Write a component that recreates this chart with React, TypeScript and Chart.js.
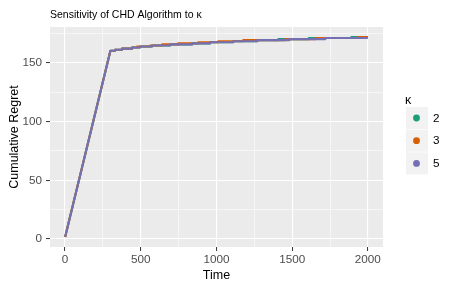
import React, { useEffect, useRef } from "react";
import { Chart, registerables } from "chart.js";

Chart.register(...registerables);

const TITLE = "Sensitivity of CHD Algorithm to κ";
const X_TITLE = "Time";
const Y_TITLE = "Cumulative Regret";
const LEGEND_TITLE = "κ";
const kappaLabels = ["2", "3", "5"];
const seriesColors = ["#1B9E77", "#D95F02", "#7570B3"];

const xMajorTicks = [0, 500, 1000, 1500, 2000];
const xMinorTicks = [250, 750, 1250, 1750];
const yMajorTicks = [0, 50, 100, 150];
const yMinorTicks = [25, 75, 125, 175];

const horizon = 2000;
const startTime = 1;
const startRegret = 1.7;
const rampEndTime = 300;
const rampEndRegret = 160.3;
const stepLevels = [161.2, 162.1, 163.0, 163.9, 164.8, 165.7, 166.6, 167.5, 168.4, 169.3, 170.2, 171.1, 172.0];
const stepTimesK2 = [331, 377, 443, 496, 575, 694, 840, 959, 1111, 1270, 1409, 1610, 1891];
const stepTimesK3 = [331, 377, 443, 476, 562, 642, 747, 880, 1012, 1177, 1455, 1655, 1938];
const stepTimesK5 = [331, 377, 443, 496, 575, 694, 840, 959, 1111, 1270, 1481, 1720];

const FONT = "'Liberation Sans', Arial, Helvetica, sans-serif";

function buildSeries(times: number[]) {
  const pts: { x: number; y: number }[] = [
    { x: startTime, y: startRegret },
    { x: rampEndTime, y: rampEndRegret },
  ];
  let level = rampEndRegret;
  times.forEach((t, i) => {
    pts.push({ x: t, y: level });
    level = stepLevels[i];
    pts.push({ x: t, y: level });
  });
  pts.push({ x: horizon, y: level });
  return pts;
}

const panelPlugin = {
  id: "panelBg",
  beforeDraw(chart: any) {
    const { ctx, chartArea } = chart;
    ctx.save();
    ctx.fillStyle = "#EBEBEB";
    ctx.fillRect(chartArea.left, chartArea.top, chartArea.right - chartArea.left, chartArea.bottom - chartArea.top);
    ctx.restore();
  },
  afterDraw(chart: any) {
    const { ctx } = chart;
    ctx.save();
    ctx.fillStyle = "#000000";
    ctx.font = `10.5px ${FONT}`;
    ctx.textAlign = "left";
    ctx.textBaseline = "alphabetic";
    ctx.fillText(TITLE, 50, 17.5);
    ctx.font = `12.5px ${FONT}`;
    ctx.fillText(LEGEND_TITLE, 405, 104);
    const keyTop = 107;
    const keySize = 22;
    const keyGap = 0.7;
    kappaLabels.forEach((lab, i) => {
      const y0 = keyTop + i * (keySize + keyGap);
      ctx.fillStyle = "#F2F2F2";
      ctx.fillRect(406, y0, keySize, keySize);
      ctx.fillStyle = seriesColors[i];
      ctx.beginPath();
      ctx.arc(406 + keySize / 2 - 0.5, y0 + keySize / 2, 3.4, 0, Math.PI * 2);
      ctx.fill();
      ctx.fillStyle = "#000000";
      ctx.font = `11.7px ${FONT}`;
      ctx.textBaseline = "middle";
      ctx.fillText(lab, 433, y0 + keySize / 2 + 0.5);
      ctx.textBaseline = "alphabetic";
    });
    ctx.restore();
  },
};

export default function App() {
  const canvasRef = useRef<HTMLCanvasElement | null>(null);

  useEffect(() => {
    const canvas = canvasRef.current;
    if (!canvas) return;
    const series = [buildSeries(stepTimesK2), buildSeries(stepTimesK3), buildSeries(stepTimesK5)];
    const allY = series.flat().map((p) => p.y);
    const allX = series.flat().map((p) => p.x);
    const yMaxData = Math.max(...allY);
    const yMinData = Math.min(...allY);
    const yPad = 0.05 * (yMaxData - yMinData);
    const xMaxData = Math.max(...allX);
    const xMinData = Math.min(...allX);
    const xPad = 0.05 * (xMaxData - xMinData);

    const isMajorX = (v: number) => xMajorTicks.includes(v);
    const isMajorY = (v: number) => yMajorTicks.includes(v);

    const chart = new Chart(canvas, {
      type: "line",
      data: {
        datasets: series.map((pts, i) => ({
          label: kappaLabels[i],
          data: pts,
          borderColor: seriesColors[i],
          backgroundColor: seriesColors[i],
          borderWidth: 2.1,
          pointRadius: 0,
          tension: 0,
          fill: false,
          borderCapStyle: "butt",
          borderJoinStyle: "round",
          order: 2 - i,
        })),
      },
      options: {
        animation: false,
        responsive: false,
        devicePixelRatio: 1,
        layout: { padding: { left: 0, top: 27, right: 71, bottom: 0 } },
        plugins: {
          legend: { display: false },
          tooltip: { enabled: false },
          title: { display: false },
        },
        scales: {
          x: {
            type: "linear",
            min: xMinData - xPad,
            max: xMaxData + xPad,
            afterBuildTicks: (s: any) => {
              s.ticks = [...xMajorTicks, ...xMinorTicks].sort((a, b) => a - b).map((v) => ({ value: v }));
            },
            afterFit: (s: any) => {
              s.height = 42;
            },
            ticks: {
              autoSkip: false,
              maxRotation: 0,
              padding: 2,
              color: "#4D4D4D",
              font: { family: FONT, size: 11.7 },
              callback: (v: any) => (isMajorX(Number(v)) ? String(v) : ""),
            },
            grid: {
              color: "#FFFFFF",
              lineWidth: (c: any) => (c.tick && isMajorX(c.tick.value) ? 1.1 : 0.55),
              tickColor: (c: any) => (c.tick && isMajorX(c.tick.value) ? "#333333" : "rgba(0,0,0,0)"),
              tickLength: 4,
              tickWidth: 1,
            },
            border: { display: false },
            title: {
              display: true,
              text: X_TITLE,
              color: "#000000",
              font: { family: FONT, size: 12.5 },
              padding: { top: 0, bottom: 6 },
            },
          },
          y: {
            type: "linear",
            min: yMinData - yPad,
            max: yMaxData + yPad,
            afterBuildTicks: (s: any) => {
              s.ticks = [...yMajorTicks, ...yMinorTicks].sort((a, b) => a - b).map((v) => ({ value: v }));
            },
            afterFit: (s: any) => {
              s.width = 50;
            },
            ticks: {
              autoSkip: false,
              padding: 4,
              color: "#4D4D4D",
              font: { family: FONT, size: 11.7 },
              callback: (v: any) => (isMajorY(Number(v)) ? String(v) : ""),
            },
            grid: {
              color: "#FFFFFF",
              lineWidth: (c: any) => (c.tick && isMajorY(c.tick.value) ? 1.1 : 0.55),
              tickColor: (c: any) => (c.tick && isMajorY(c.tick.value) ? "#333333" : "rgba(0,0,0,0)"),
              tickLength: 4,
              tickWidth: 1,
            },
            border: { display: false },
            title: {
              display: true,
              text: Y_TITLE,
              color: "#000000",
              font: { family: FONT, size: 12.5 },
              padding: { top: 7, bottom: 0 },
            },
          },
        },
      },
      plugins: [panelPlugin],
    } as any);

    return () => chart.destroy();
  }, []);

  return (
    <div style={{ position: "fixed", left: 0, top: 0, width: 454, height: 289, background: "#FFFFFF" }}>
      <canvas ref={canvasRef} width={454} height={289} style={{ display: "block", width: 454, height: 289 }} />
    </div>
  );
}
